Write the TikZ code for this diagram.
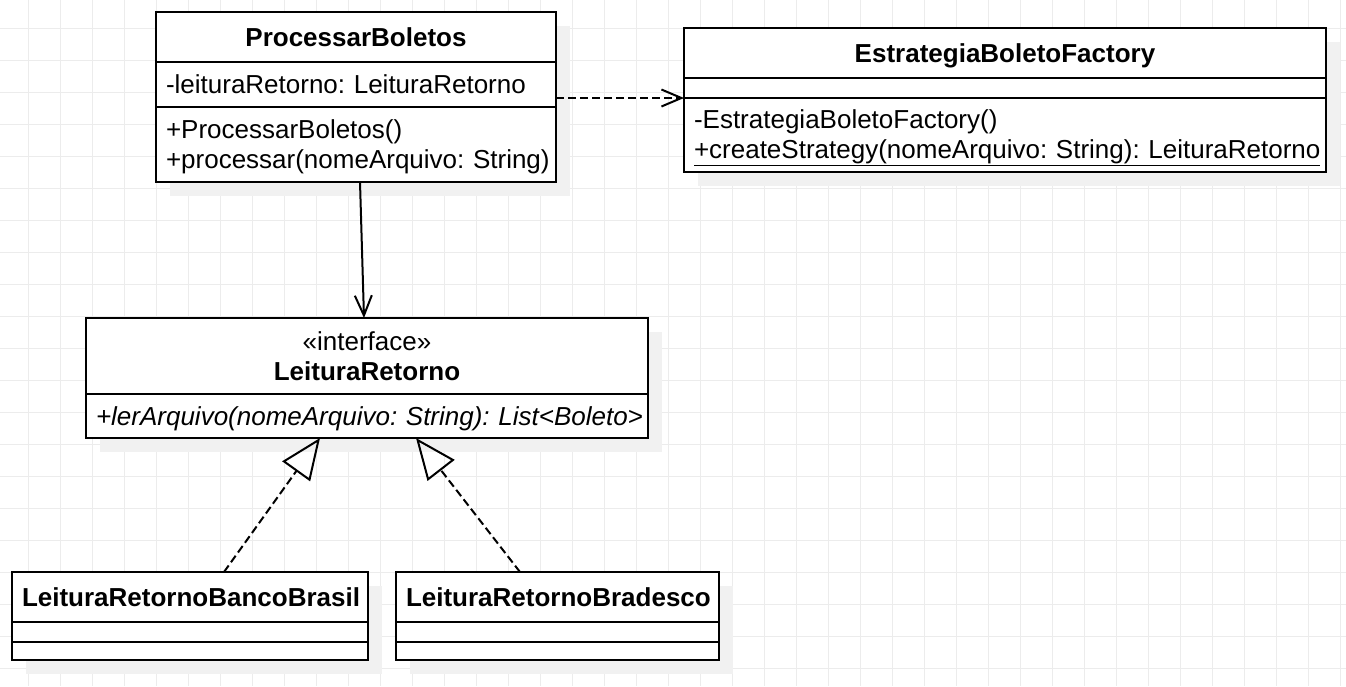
\documentclass[tikz,border=0pt]{standalone}
\usepackage{fontspec}
\setmainfont{Liberation Sans}
\frenchspacing
\usetikzlibrary{positioning,arrows.meta,shadows}
\definecolor{gridgray}{RGB}{236,236,236}
\definecolor{shadowgray}{RGB}{241,241,241}

\begin{document}
\begin{tikzpicture}[x=1pt, y=-1pt, line width=2pt,
      every node/.style={draw, fill=white, anchor=north west, outer sep=0pt,
        inner xsep=10pt, inner ysep=0pt, font=\fontsize{26}{30}\selectfont,
        drop shadow={shadow xshift=14pt, shadow yshift=-14pt, fill=shadowgray, opacity=1}},
      classhead/.style={align=center, minimum height=50pt, text height=19pt, text depth=0pt,
        font=\fontsize{26}{30}\selectfont\bfseries},
      classpart/.style={align=left},
      gridline/.style={draw=gridgray, line width=1pt},
      dependency/.style={dash pattern=on 8pt off 4pt,
        -{Straight Barb[length=20pt, width=17pt]}},
      association/.style={-{Straight Barb[length=20pt, width=17pt]}},
      realization/.style={dash pattern=on 8pt off 4pt,
        -{Triangle[open, length=41pt, width=34pt]}}]
    \useasboundingbox (0,0) rectangle (1346,686);
    \fill[white] (0,0) rectangle (1346,686);
    \foreach \k in {0,...,41}
        \draw[gridline] (28+32*\k,0) -- (28+32*\k,686);
    \foreach \k in {0,...,20}
        \draw[gridline] (0,28+32*\k) -- (1346,28+32*\k);

    \node[classhead, text width=380pt] (pbTitle) at (156,12) {ProcessarBoletos};
    \node[classpart, text width=380pt, minimum height=45pt, below=0pt of pbTitle] (pbAttr)
        {\mbox{-leituraRetorno: LeituraRetorno}};
    \node[classpart, text width=380pt, minimum height=75pt, below=0pt of pbAttr] (pbOps)
        {\rule{0pt}{24pt}\mbox{+ProcessarBoletos()}\\\mbox{+processar(nomeArquivo: String)}};

    \node[classhead, text width=622pt] (fcTitle) at (684,28) {EstrategiaBoletoFactory};
    \node[classpart, text width=622pt, minimum height=20pt, below=0pt of fcTitle] (fcAttr) {};
    \node[classpart, text width=622pt, minimum height=74pt, below=0pt of fcAttr] (fcOps)
        {\rule{0pt}{25pt}\mbox{-EstrategiaBoletoFactory()}\\\underline{+createStrategy(nomeArquivo: String): LeituraRetorno}};

    \node[classpart, align=center, text width=542pt, minimum height=76pt] (ifTitle) at (86,318)
        {«interface»\\\textbf{LeituraRetorno}};
    \node[classpart, text width=542pt, minimum height=44pt, below=0pt of ifTitle] (ifOps)
        {\rule{0pt}{24pt}\mbox{\itshape +lerArquivo(nomeArquivo: String): List<Boleto>}};

    \node[classhead, text width=336pt] (bbTitle) at (12,572) {LeituraRetornoBancoBrasil};
    \node[classpart, text width=336pt, minimum height=20pt, below=0pt of bbTitle] (bbAttr) {};
    \node[classpart, text width=336pt, minimum height=18pt, below=0pt of bbAttr] (bbOps) {};

    \node[classhead, text width=303pt] (brTitle) at (396,572) {LeituraRetornoBradesco};
    \node[classpart, text width=303pt, minimum height=20pt, below=0pt of brTitle] (brAttr) {};
    \node[classpart, text width=303pt, minimum height=18pt, below=0pt of brAttr] (brOps) {};

    \draw[dependency] (pbAttr.east |- fcAttr.south) -- (fcAttr.south west);
    \draw[association] ([xshift=4pt]pbOps.south) -- ([xshift=-3pt]ifTitle.north);
    \draw[realization] ([xshift=34pt]bbTitle.north) -- ([xshift=-47pt]ifOps.south);
    \draw[realization] ([xshift=-37.5pt]brTitle.north) -- ([xshift=49pt]ifOps.south);
\end{tikzpicture}
\end{document}
